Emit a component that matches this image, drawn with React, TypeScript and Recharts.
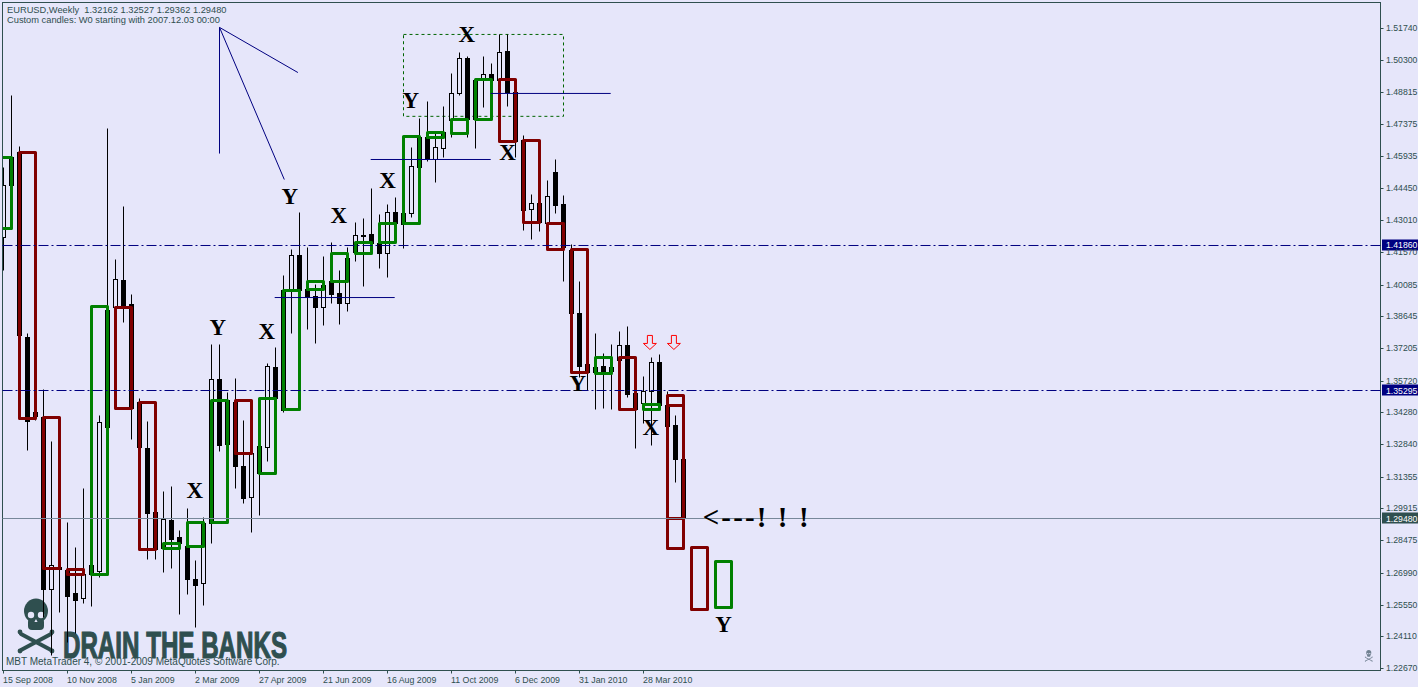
import { ComposedChart, Bar, Scatter, XAxis, YAxis, ReferenceLine, ReferenceArea } from 'recharts'

const BG = '#E6E6FA'
const SLATE = '#2F4F4F'
const NAVY = '#000080'
const UP = '#008000'
const DOWN = '#800000'

// weekly candles, index = weeks since 15 Sep 2008
const opens = [
  1.4224, 1.4588, 1.4611, 1.3770, 1.3430, 1.3407, 1.2626, 1.2726, 1.2712, 1.2607,
  1.2585, 1.2735, 1.2707, 1.3893, 1.3907, 1.4029, 1.3921, 1.3475, 1.3267, 1.2976,
  1.2812, 1.2939, 1.2862, 1.2821, 1.2671, 1.2653, 1.2925, 1.3580, 1.3484, 1.3475,
  1.3185, 1.3044, 1.3276, 1.3271, 1.3634, 1.3984, 1.3984, 1.4143, 1.3988, 1.3957,
  1.3907, 1.4024, 1.3970, 1.3925, 1.4157, 1.4233, 1.4238, 1.4197, 1.4152, 1.4338,
  1.4333, 1.4333, 1.4679, 1.4679, 1.4579, 1.4629, 1.4756, 1.4878, 1.5038, 1.4938,
  1.4942, 1.4965, 1.4938, 1.5069, 1.4883, 1.4665, 1.4352, 1.4379, 1.4288, 1.4520,
  1.4375, 1.4166, 1.3879, 1.3648, 1.3634, 1.3639, 1.3634, 1.3666, 1.3734, 1.3516,
  1.3470, 1.3525, 1.3657, 1.3461, 1.3371, 1.32162,
]
const highs = [
  1.4542, 1.4869, 1.4638, 1.3788, 1.3439, 1.3534, 1.3298, 1.2735, 1.2930, 1.2816,
  1.3085, 1.2758, 1.3416, 1.4720, 1.4125, 1.4366, 1.3966, 1.3494, 1.3389, 1.2976,
  1.3071, 1.3094, 1.2894, 1.2994, 1.2758, 1.2953, 1.3739, 1.3739, 1.3521, 1.3585,
  1.3394, 1.3243, 1.3484, 1.3652, 1.3725, 1.4052, 1.4170, 1.4338, 1.4179, 1.4011,
  1.4139, 1.4202, 1.4075, 1.4179, 1.4293, 1.4311, 1.4448, 1.4329, 1.4375, 1.4406,
  1.4333, 1.4633, 1.4766, 1.4842, 1.4702, 1.4820, 1.4969, 1.5065, 1.5047, 1.4938,
  1.5047, 1.5015, 1.5147, 1.5147, 1.4915, 1.4688, 1.4420, 1.4379, 1.4484, 1.4579,
  1.4415, 1.4193, 1.4024, 1.3666, 1.3788, 1.3697, 1.3739, 1.3797, 1.3821, 1.3516,
  1.3594, 1.3679, 1.3693, 1.3525, 1.3416, 1.32527,
]
const lows = [
  1.4075, 1.4461, 1.3779, 1.3257, 1.3394, 1.2499, 1.2326, 1.2522, 1.2385, 1.2426,
  1.2562, 1.2549, 1.2680, 1.3362, 1.3893, 1.3839, 1.3307, 1.3271, 1.2762, 1.2762,
  1.2703, 1.2722, 1.2513, 1.2603, 1.2453, 1.2553, 1.2834, 1.3252, 1.3285, 1.3085,
  1.3016, 1.2885, 1.2962, 1.3207, 1.3494, 1.3430, 1.3788, 1.3984, 1.3807, 1.3743,
  1.3825, 1.3925, 1.3830, 1.3888, 1.4115, 1.4002, 1.4197, 1.4084, 1.4043, 1.4288,
  1.4175, 1.4315, 1.4542, 1.4569, 1.4475, 1.4588, 1.4679, 1.4869, 1.4679, 1.4629,
  1.4815, 1.4938, 1.4847, 1.4820, 1.4588, 1.4256, 1.4215, 1.4251, 1.4288, 1.4333,
  1.4024, 1.3879, 1.3589, 1.3530, 1.3443, 1.3448, 1.3443, 1.3612, 1.3498, 1.3267,
  1.3380, 1.3280, 1.3461, 1.3367, 1.3112, 1.29362,
]
const closes = [
  1.4461, 1.4461, 1.3779, 1.3389, 1.3412, 1.2626, 1.2735, 1.2717, 1.2594, 1.2576,
  1.2694, 1.2694, 1.3385, 1.3362, 1.4034, 1.3912, 1.3448, 1.3271, 1.2971, 1.2807,
  1.2944, 1.2853, 1.2834, 1.2671, 1.2644, 1.2925, 1.3580, 1.3280, 1.3285, 1.3185,
  1.3040, 1.3243, 1.3152, 1.3639, 1.3494, 1.3439, 1.4143, 1.3984, 1.3952, 1.3907,
  1.4006, 1.3966, 1.3925, 1.4130, 1.4233, 1.4229, 1.4197, 1.4152, 1.4338, 1.4288,
  1.4284, 1.4547, 1.4542, 1.4579, 1.4633, 1.4702, 1.4878, 1.5038, 1.4761, 1.4761,
  1.4965, 1.4938, 1.5065, 1.4883, 1.4660, 1.4347, 1.4379, 1.4293, 1.4411, 1.4370,
  1.4179, 1.3879, 1.3639, 1.3612, 1.3612, 1.3616, 1.3616, 1.3734, 1.3512, 1.3443,
  1.3525, 1.3657, 1.3461, 1.3367, 1.3216, 1.2948,
]

// custom 3-week candles, the week is the middle one
const boxWeeks = [0, 3, 6, 9, 12, 15, 18, 21, 24, 27, 30, 33, 36, 39, 42, 45, 48, 51, 54, 57, 60, 63, 66, 69, 72, 75, 78, 81, 84, 84, 87, 90]
const boxOpens = [
  1.4266, 1.4611, 1.3407, 1.2717, 1.2694, 1.3907, 1.3475, 1.2812, 1.2821, 1.2930, 1.3484,
  1.3152, 1.3443, 1.3988, 1.4024, 1.4152, 1.4202, 1.4288, 1.4679, 1.4697, 1.4761, 1.4942,
  1.4665, 1.4288, 1.4170, 1.3607, 1.3679, 1.3443, 1.3507, 1.3461, 1.2816, 1.2544,
]
const boxCloses = [
  1.4588, 1.3403, 1.2722, 1.2694, 1.3912, 1.3448, 1.2807, 1.2834, 1.2930, 1.3484, 1.3243,
  1.3494, 1.3984, 1.4024, 1.4152, 1.4202, 1.4288, 1.4684, 1.4702, 1.4761, 1.4942, 1.4660,
  1.4293, 1.4170, 1.3612, 1.3679, 1.3443, 1.3466, 1.2812, 1.2949, 1.2535, 1.2753,
]

const dateTicks = [0, 8, 16, 24, 32, 40, 48, 56, 64, 72, 80]
const dateLabels = ['15 Sep 2008', '10 Nov 2008', '5 Jan 2009', '2 Mar 2009', '27 Apr 2009', '21 Jun 2009', '16 Aug 2009', '11 Oct 2009', '6 Dec 2009', '31 Jan 2010', '28 Mar 2010']
const priceTicks = [
  1.5174, 1.503, 1.48815, 1.47375, 1.45935, 1.4445, 1.4301, 1.4157, 1.40085, 1.38645, 1.37205,
  1.3572, 1.3428, 1.3284, 1.31355, 1.29915, 1.28475, 1.2699, 1.2555, 1.2411, 1.2267,
]

const waveLabels = ['Y', 'X', 'X', 'Y', 'X', 'X', 'X', 'Y', 'X', 'Y', 'X', 'Y']
const waveWeeks = [35.8, 41.9, 48, 50.9, 57.9, 63, 23.9, 26.8, 32.9, 71.8, 80.9, 90]
const wavePrices = [1.4415, 1.4329, 1.4488, 1.4847, 1.5151, 1.4615, 1.3080, 1.3816, 1.3802, 1.3562, 1.3362, 1.2471]

const arrowWeeks = [80.8, 83.8]
const arrowPrice = 1.3748

// [week1, price1, week2, price2]
const trendLines = [
  [27, 1.5179, 27, 1.4606],
  [27, 1.5179, 36.8, 1.4974],
  [27, 1.5179, 35.1, 1.4488],
  [33.9, 1.3952, 48.9, 1.3952],
  [45.9, 1.4579, 60.9, 1.4579],
  [60.9, 1.4879, 75.9, 1.4879],
]

const levelPrices = [1.41884, 1.35297]
const levelLabels = ['1.41860', '1.35295']
const lastPrice = 1.29483

const candleRows = opens.map((open, i) => ({ week: i, open, high: highs[i], low: lows[i], close: closes[i] }))
const boxRows = boxWeeks.map((week, i) => ({ week, boxOpen: boxOpens[i], boxClose: boxCloses[i] }))
const rows = [...candleRows, ...boxRows]

const noteRows = [
  ...waveLabels.map((label, i) => ({ week: waveWeeks[i], price: wavePrices[i], label })),
  ...arrowWeeks.map(week => ({ week, price: arrowPrice, label: 'arrow' })),
  { week: 87.4, price: 1.2949, label: '<---! ! !' },
]

const snap = (v: number) => Math.floor(v) + 0.5

function Candle(props: any) {
  const { x, y, width, height, payload } = props
  if (payload.high == null || !(height >= 0)) return null
  const cx = snap(x + width / 2)
  const perUnit = height / (payload.high - payload.low)
  const at = (p: number) => snap(y + (payload.high - p) * perUnit)
  const top = at(Math.max(payload.open, payload.close))
  const bottom = at(Math.min(payload.open, payload.close))
  const bull = payload.close > payload.open
  return (
    <g clipPath="url(#plot)">
      <line x1={cx} x2={cx} y1={at(payload.high)} y2={at(payload.low)} stroke="#000" />
      <rect x={cx - 2} y={top} width={4} height={Math.max(bottom - top, 1)} fill={bull ? BG : '#000'} stroke="#000" />
    </g>
  )
}

function CustomBox(props: any) {
  const { x, y, width, height, payload } = props
  if (payload.boxOpen == null || !(height >= 0)) return null
  const color = payload.boxClose > payload.boxOpen ? UP : DOWN
  const cx = snap(x + width / 2)
  return (
    <g clipPath="url(#plot)">
      <rect x={cx - 8} y={snap(y)} width={16} height={Math.round(height)} fill="none" stroke={color} strokeWidth={3} strokeLinejoin="round" />
    </g>
  )
}

function Note(props: any) {
  const { cx, cy, payload } = props
  if (payload.label === 'arrow') {
    return (
      <path
        d={`M${cx - 2.5} ${cy - 7} h5 v8 h4 L${cx} ${cy + 7} L${cx - 6.5} ${cy + 1} h4 z`}
        fill={BG}
        stroke="#FF0000"
      />
    )
  }
  if (payload.label.length > 1) {
    return (
      <text x={cx} y={cy + 9} fontFamily="Liberation Serif" fontWeight="bold" fontSize={29} textLength={106} fill="#000" style={{ whiteSpace: 'pre' }}>
        {payload.label}
      </text>
    )
  }
  return (
    <text x={cx} y={cy + 8} textAnchor="middle" fontFamily="Liberation Serif" fontWeight="bold" fontSize={23} fill="#000">
      {payload.label}
    </text>
  )
}

function DateTick({ x, y, index }: any) {
  return (
    <text x={x - 0.5} y={y + 7} fontFamily="Liberation Sans" fontSize={8.8} fill={SLATE}>
      {dateLabels[index]}
    </text>
  )
}

function PriceTick({ y, payload }: any) {
  const py = snap(y)
  return (
    <g>
      <line x1={1380.5} x2={1383.5} y1={py} y2={py} stroke={SLATE} />
      <text x={1386} y={py + 2.5} fontFamily="Liberation Sans" fontSize={8.7} fill={SLATE}>
        {payload.value.toFixed(5)}
      </text>
    </g>
  )
}

function PriceTag({ viewBox, text, color }: any) {
  const y = viewBox.y
  return (
    <g>
      <rect x={1382} y={y - 6} width={36} height={11} fill={color} />
      <text x={1386} y={y + 3} fontFamily="Liberation Sans" fontSize={8.7} fill="#fff">{text}</text>
    </g>
  )
}

function Skull({ transform, color }: { transform?: string; color: string }) {
  return (
    <g transform={transform} fill={color} stroke="none">
      <ellipse cx={36} cy={611} rx={12} ry={12.5} />
      <rect x={28} y={618} width={16} height={12} rx={4} />
      <circle cx={31} cy={615} r={3.2} fill={BG} />
      <circle cx={41} cy={615} r={3.2} fill={BG} />
      <path d="M36 619 l-1.6 3 h3.2 z" fill={BG} />
      <path d="M21 634 L51 650 M51 634 L21 650" stroke={color} strokeWidth={4} strokeLinecap="round" />
      <circle cx={20} cy={632} r={2.4} />
      <circle cx={52} cy={632} r={2.4} />
      <circle cx={20} cy={651} r={2.4} />
      <circle cx={52} cy={651} r={2.4} />
    </g>
  )
}

export default function App() {
  return (
    <div style={{ position: 'absolute', left: 0, top: 0, width: 1418, height: 687, background: BG, overflow: 'hidden' }}>
      <ComposedChart width={1418} height={687} data={rows} margin={{ top: 2.5, left: 2.5, right: 0, bottom: 0 }}>
        <defs>
          <clipPath id="plot">
            <rect x={3} y={3} width={1377} height={667} />
          </clipPath>
        </defs>
        <XAxis
          dataKey="week"
          type="number"
          scale="linear"
          domain={[-0.125, 172.125]}
          allowDataOverflow
          ticks={dateTicks}
          interval={0}
          height={16.5}
          axisLine={false}
          tickSize={3}
          tickLine={{ stroke: SLATE }}
          tick={DateTick}
        />
        <XAxis
          xAxisId="boxes"
          dataKey="week"
          type="number"
          scale="linear"
          domain={[-0.125, 172.125]}
          allowDataOverflow
          ticks={dateTicks}
          hide
        />
        <YAxis
          dataKey="price"
          orientation="right"
          width={37.5}
          type="number"
          domain={[1.22579, 1.52921]}
          allowDataOverflow
          ticks={priceTicks}
          interval={0}
          axisLine={false}
          tickLine={false}
          tick={PriceTick}
        />
        <Bar dataKey={(d: any) => (d.high == null ? undefined : [d.low, d.high])} barSize={6} shape={Candle} isAnimationActive={false} />
        <Bar
          xAxisId="boxes"
          dataKey={(d: any) => (d.boxOpen == null ? undefined : [Math.min(d.boxOpen, d.boxClose), Math.max(d.boxOpen, d.boxClose)])}
          barSize={6}
          shape={CustomBox}
          isAnimationActive={false}
        />
        <ReferenceArea x1={50} x2={70} y1={1.4775} y2={1.5147} fill="none" stroke="#006400" strokeDasharray="3 3" />
        {trendLines.map((t, i) => (
          <ReferenceLine
            key={i}
            segment={[{ x: t[0], y: t[1] }, { x: t[2], y: t[3] }]}
            stroke={NAVY}
          />
        ))}
        {levelPrices.map((p, i) => (
          <ReferenceLine
            key={p}
            y={p}
            stroke={NAVY}
            strokeDasharray="10 3 2 3"
            label={<PriceTag text={levelLabels[i]} color={NAVY} />}
          />
        ))}
        <ReferenceLine y={lastPrice} stroke="#778899" label={<PriceTag text="1.29480" color={SLATE} />} />
        <Scatter data={noteRows} shape={Note} isAnimationActive={false} />
        <rect x={2.5} y={2.5} width={1378} height={668} fill="none" stroke={SLATE} />
        <text x={7} y={13} fontFamily="Liberation Sans" fontSize={9.3} fill={SLATE} style={{ whiteSpace: 'pre' }}>
          EURUSD,Weekly  1.32162 1.32527 1.29362 1.29480
        </text>
        <text x={7} y={23} fontFamily="Liberation Sans" fontSize={9.3} fill={SLATE}>
          Custom candles: W0 starting with 2007.12.03 00:00
        </text>
        <Skull color={SLATE} />
        <text
          x={63}
          y={658}
          fontFamily="Liberation Sans Narrow, Liberation Sans"
          fontWeight="bold"
          fontSize={36}
          textLength={224}
          lengthAdjust="spacingAndGlyphs"
          fill={SLATE}
          stroke={SLATE}
          strokeWidth={1.2}
        >
          DRAIN THE BANKS
        </text>
        <text x={6} y={665} fontFamily="Liberation Sans" fontSize={10} fill={SLATE}>
          MBT MetaTrader 4, © 2001-2009 MetaQuotes Software Corp.
        </text>
        <Skull color="#708090" transform="translate(1361.2 524.4) scale(0.21)" />
      </ComposedChart>
    </div>
  )
}
